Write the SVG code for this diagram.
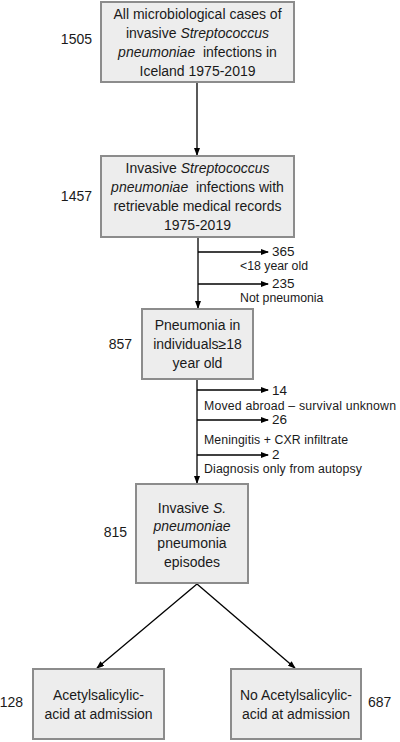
<svg xmlns="http://www.w3.org/2000/svg" width="400" height="742" viewBox="0 0 400 742">
<style>
text{font-family:"Liberation Sans",Arial,sans-serif;fill:#1a1a1a}
.b{font-size:14px;text-anchor:middle}
.n{font-size:14px}
.m{font-size:13.5px}
.s{font-size:12.3px}
.i{font-style:italic}
rect{fill:#ededed;stroke:#8c8c8c;stroke-width:2}
.c line{stroke:#000;stroke-width:1.3;marker-end:url(#ah)}
</style>
<defs>
<marker id="ah" markerUnits="userSpaceOnUse" markerWidth="8" markerHeight="6" viewBox="0 0 8 6" refX="7" refY="3" orient="auto">
<path d="M0,0 L8,3 L0,6 Z" fill="#000"/>
</marker>
</defs>
<rect x="0" y="0" width="400" height="742" style="fill:#fff;stroke:none"/>
<g class="c" id="connectors">
<line x1="197" y1="83" x2="197" y2="155"/>
<line x1="198" y1="238" x2="198" y2="308"/>
<line x1="198" y1="252" x2="268" y2="252"/>
<line x1="198" y1="284" x2="268" y2="284"/>
<line x1="197" y1="380" x2="197" y2="483"/>
<line x1="197" y1="390" x2="268" y2="390"/>
<line x1="197" y1="420" x2="268" y2="420"/>
<line x1="197" y1="455" x2="268" y2="455"/>
<line x1="197" y1="584" x2="97" y2="668"/>
<line x1="197" y1="584" x2="295" y2="668"/>
</g>
<g id="n1">
<rect x="101" y="2" width="193" height="80"/>
<text class="b" x="197.5" y="18.5">All microbiological cases of</text>
<text class="b" x="197.5" y="37.7">invasive <tspan class="i">Streptococcus</tspan></text>
<text class="b" x="197.5" y="57" xml:space="preserve"><tspan class="i">pneumoniae</tspan>  infections in</text>
<text class="b" x="197.5" y="76">Iceland 1975-2019</text>
<text class="n" x="92" y="44.3" text-anchor="end">1505</text>
</g>
<g id="n2">
<rect x="101" y="156" width="193" height="81"/>
<text class="b" x="197.5" y="172.7">Invasive <tspan class="i">Streptococcus</tspan></text>
<text class="b" x="197.5" y="191.7" xml:space="preserve"><tspan class="i">pneumoniae</tspan>  infections with</text>
<text class="b" x="197.5" y="210.7">retrievable medical records</text>
<text class="b" x="197.5" y="229.5">1975-2019</text>
<text class="n" x="92" y="201" text-anchor="end">1457</text>
</g>
<g id="ex1">
<text class="m" x="272" y="256">365</text>
<text class="s" x="240" y="269.5">&lt;18 year old</text>
<text class="m" x="272" y="287.5">235</text>
<text class="s" x="240" y="301.5">Not pneumonia</text>
</g>
<g id="n3">
<rect x="142" y="309" width="111" height="70"/>
<text class="b" x="197.5" y="330">Pneumonia in</text>
<text class="b" x="197.5" y="349">individuals≥18</text>
<text class="b" x="197.5" y="367.5">year old</text>
<text class="n" x="132" y="349" text-anchor="end">857</text>
</g>
<g id="ex2">
<text class="m" x="272" y="395">14</text>
<text class="s" x="204" y="409.5" textLength="192">Moved abroad – survival unknown</text>
<text class="m" x="272" y="424">26</text>
<text class="s" x="204" y="444.3" textLength="144">Meningitis + CXR infiltrate</text>
<text class="m" x="272" y="459">2</text>
<text class="s" x="204" y="472.7" textLength="158">Diagnosis only from autopsy</text>
</g>
<g id="n4">
<rect x="136" y="484" width="112" height="99"/>
<text class="b" x="192" y="513.3">Invasive <tspan class="i">S.</tspan></text>
<text class="b i" x="192" y="530.5">pneumoniae</text>
<text class="b" x="192" y="548.3">pneumonia</text>
<text class="b" x="192" y="566.5">episodes</text>
<text class="n" x="127" y="537" text-anchor="end">815</text>
</g>
<g id="n5">
<rect x="33" y="669" width="131" height="70"/>
<text class="b" x="98.5" y="700">Acetylsalicylic-</text>
<text class="b" x="98.5" y="718.5">acid at admission</text>
<text class="n" x="23" y="706.7" text-anchor="end">128</text>
</g>
<g id="n6">
<rect x="231" y="669" width="130" height="70"/>
<text class="b" x="296" y="700">No Acetylsalicylic-</text>
<text class="b" x="296" y="718.5">acid at admission</text>
<text class="n" x="368" y="706.7">687</text>
</g>
</svg>
